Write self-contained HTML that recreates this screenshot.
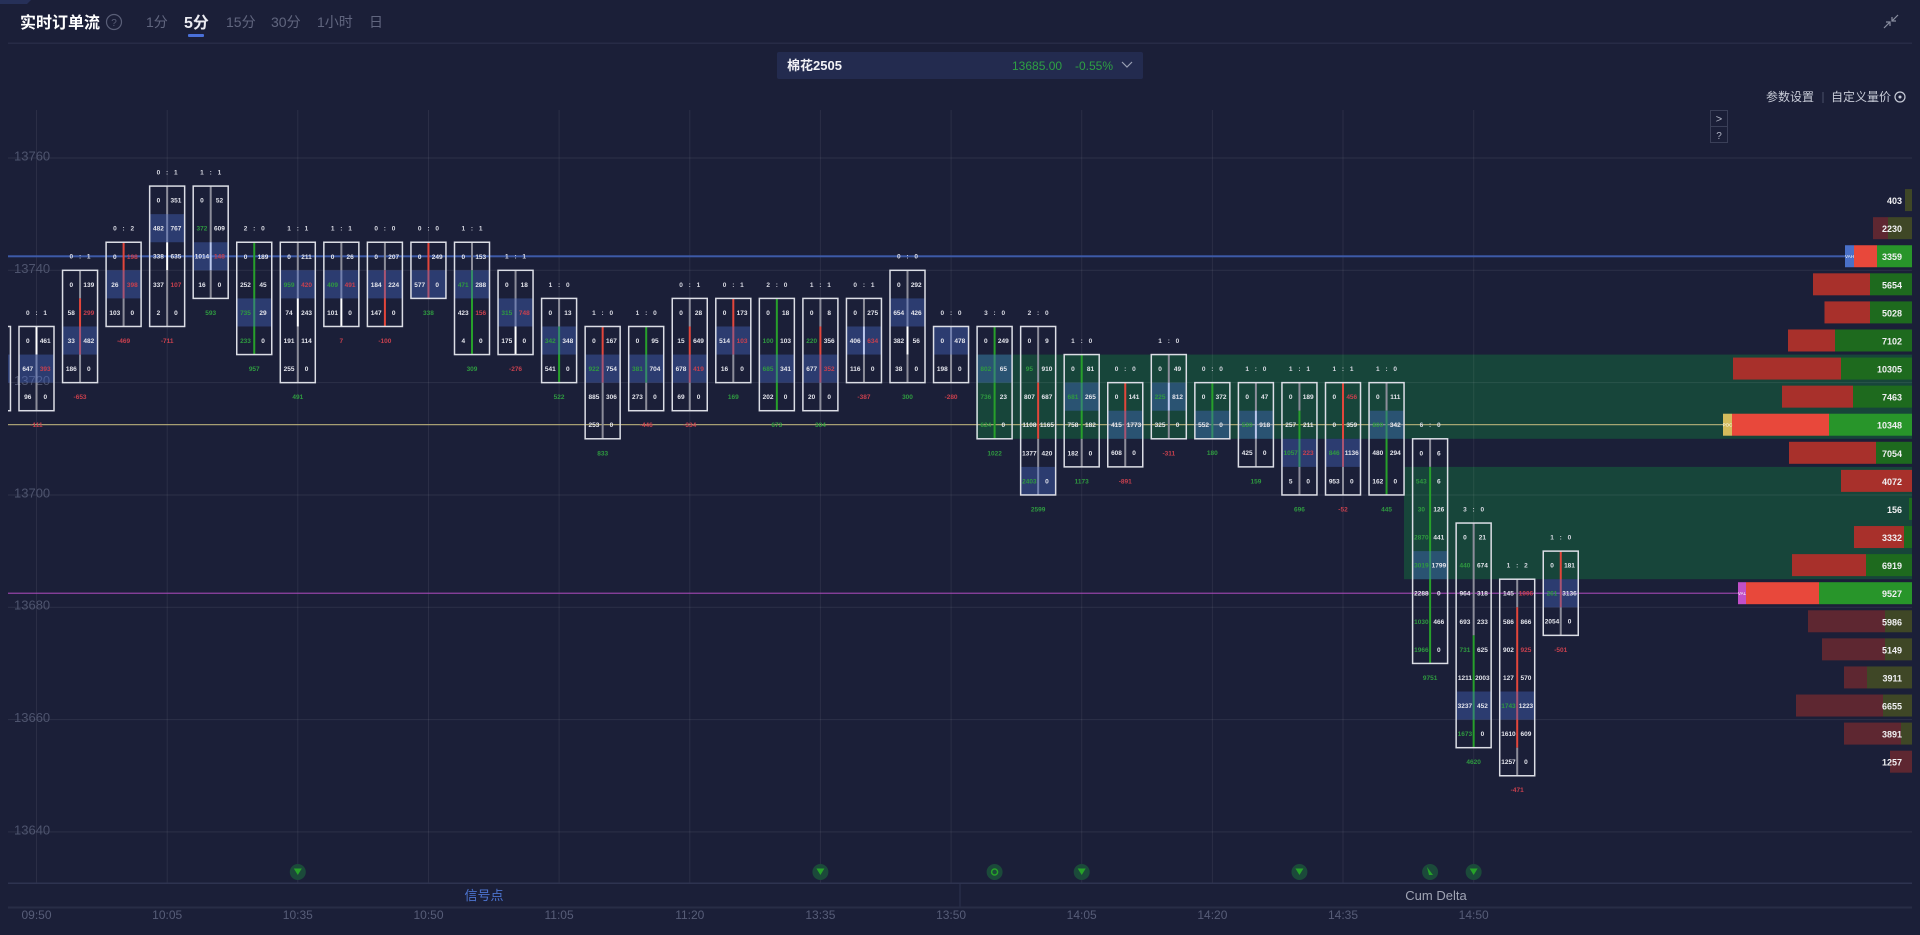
<!DOCTYPE html>
<html><head><meta charset="utf-8"><title>实时订单流</title>
<style>
html,body{margin:0;padding:0;background:#1b1f38;width:1920px;height:935px;overflow:hidden}
svg{display:block}
text{font-family:"Liberation Sans","Noto Sans CJK SC",sans-serif}
.k text{font-size:6.5px;font-weight:700;fill:#e4e5ec;text-anchor:middle}
.k .g{fill:#2f9a40}
.k .r{fill:#c8404e}
.k .h{letter-spacing:2px;fill:#d9dae3}
.bx{fill:none;stroke:#dcdee6;stroke-width:1.5}
.hl{fill:#4a6ccc;fill-opacity:.38}
.lg{fill:#8c8d9a}.lr{fill:#e3463b}.ln{fill:#27a02b}.lw{fill:#ffffff}
.pt{font-size:9px;font-weight:700;fill:#f0f0f2;text-anchor:end}
.tl{font-size:12px;fill:#575d78;text-anchor:middle}
.pl{font-size:13px;fill:#4e546e}
.tab{font-size:14px;fill:#61667f}
</style></head>
<body>
<svg width="1920" height="935" viewBox="0 0 1920 935" xmlns="http://www.w3.org/2000/svg">
<defs><clipPath id="cp"><rect x="8" y="100" width="1904" height="783"/></clipPath></defs>
<rect width="1920" height="935" fill="#1b1f38"/>
<polygon points="0,0 31,0 27,4 0,4" fill="#263058"/>

<!-- header -->
<text x="20" y="28" font-size="16" font-weight="700" fill="#ffffff">实时订单流</text>
<circle cx="114" cy="22" r="7.5" fill="none" stroke="#5a5f78" stroke-width="1.2"/>
<text x="114" y="26" font-size="10" fill="#5a5f78" text-anchor="middle">?</text>
<text class="tab" x="146" y="27">1分</text>
<text x="184" y="28" font-size="16" font-weight="700" fill="#ececf2">5分</text>
<rect x="188" y="34" width="16" height="3" rx="1" fill="#4a70d8"/>
<text class="tab" x="226" y="27">15分</text>
<text class="tab" x="271" y="27">30分</text>
<text class="tab" x="317" y="27">1小时</text>
<text class="tab" x="369" y="27">日</text>
<g stroke="#8a8ea0" stroke-width="1.2" fill="none">
<line x1="1898" y1="15" x2="1892" y2="21"/><polyline points="1892,17 1892,21 1896,21"/>
<line x1="1884" y1="28" x2="1890" y2="22"/><polyline points="1886,22 1890,22 1890,26"/>
</g>
<rect x="8" y="42.5" width="1904" height="1.5" fill="#272b46"/>

<!-- selector -->
<rect x="777" y="52" width="366" height="27" rx="2" fill="#232b4f"/>
<text x="787" y="70" font-size="13" font-weight="700" fill="#f2f2f6">棉花2505</text>
<text x="1012" y="70" font-size="12" fill="#2ea043">13685.00</text>
<text x="1075" y="70" font-size="12" fill="#2ea043">-0.55%</text>
<polyline points="1122,62 1127,67 1132,62" fill="none" stroke="#9aa0b4" stroke-width="1.2"/>

<text x="1766" y="101" font-size="12" fill="#c8ccd8">参数设置</text>
<rect x="1822.5" y="92" width="1" height="11" fill="#4a4f68"/>
<text x="1831" y="101" font-size="12" fill="#c8ccd8">自定义量价</text>
<circle cx="1900" cy="97" r="5" fill="none" stroke="#c8ccd8" stroke-width="1.2"/>
<circle cx="1900" cy="97" r="1.5" fill="#c8ccd8"/>
<rect x="1710.5" y="110.5" width="17" height="16" fill="none" stroke="#3a3f58"/>
<rect x="1710.5" y="126.5" width="17" height="16" fill="none" stroke="#3a3f58"/>
<text x="1719" y="122.5" font-size="11" fill="#b0b4c4" text-anchor="middle">&gt;</text>
<text x="1719" y="139" font-size="10" fill="#b0b4c4" text-anchor="middle">?</text>

<!-- green bands -->
<rect x="976" y="354.56" width="936" height="84.24" fill="#17453a"/>
<rect x="1404" y="466.88" width="508" height="112.32" fill="#17453a"/>

<!-- horizontal gridlines -->
<g fill="#ffffff" fill-opacity="0.08">
<rect x="8" y="157.5" width="1904" height="1"/>
<rect x="8" y="269.8" width="1904" height="1"/>
<rect x="8" y="382.1" width="1904" height="1"/>
<rect x="8" y="494.5" width="1904" height="1"/>
<rect x="8" y="606.8" width="1904" height="1"/>
<rect x="8" y="719.1" width="1904" height="1"/>
<rect x="8" y="831.4" width="1904" height="1"/>
</g>
<!-- vertical gridlines -->
<g fill="#ffffff" fill-opacity="0.07">
<rect x="36" y="110" width="1" height="773"/>
<rect x="166.7" y="110" width="1" height="773"/>
<rect x="297.3" y="110" width="1" height="773"/>
<rect x="428" y="110" width="1" height="773"/>
<rect x="558.6" y="110" width="1" height="773"/>
<rect x="689.3" y="110" width="1" height="773"/>
<rect x="819.9" y="110" width="1" height="773"/>
<rect x="950.6" y="110" width="1" height="773"/>
<rect x="1081.2" y="110" width="1" height="773"/>
<rect x="1211.9" y="110" width="1" height="773"/>
<rect x="1342.5" y="110" width="1" height="773"/>
<rect x="1473.2" y="110" width="1" height="773"/>
</g>
<!-- price labels -->
<text class="pl" x="14" y="160.5">13760</text>
<text class="pl" x="14" y="272.8">13740</text>
<text class="pl" x="14" y="385.1">13720</text>
<text class="pl" x="14" y="497.4">13700</text>
<text class="pl" x="14" y="609.7">13680</text>
<text class="pl" x="14" y="722">13660</text>
<text class="pl" x="14" y="834.3">13640</text>

<!-- VAH / POC / VAL lines -->
<rect x="8" y="255.3" width="1837" height="2" fill="#3d5aa8"/>
<rect x="8" y="424.2" width="1715" height="1" fill="#c8bd80"/>
<rect x="8" y="592.7" width="1730" height="1" fill="#b04cc0"/>

<!-- candles -->
<g class="k" clip-path="url(#cp)">
<g transform="translate(-24.55,298.4)">
<rect class="lg" x="16.5" y="28.08" width="2" height="84.24"/>
<rect class="hl" y="56.16" width="35" height="28.08"/>
<rect class="bx" y="28.08" width="35" height="84.24"/>
</g>
<g transform="translate(19,298.4)">
<rect class="lw" x="16.5" y="28.08" width="2" height="28.08"/>
<rect class="lg" x="16.5" y="56.16" width="2" height="56.16"/>
<rect class="hl" y="56.16" width="35" height="28.08"/>
<rect class="bx" y="28.08" width="35" height="84.24"/>
<text class="h" x="18.5" y="16.5">0 : 1</text>
<text x="8.75" y="44.6">0</text><text x="26.25" y="44.6">461</text>
<text x="8.75" y="72.7">647</text><text class="r" x="26.25" y="72.7">393</text>
<text x="8.75" y="100.7">96</text><text x="26.25" y="100.7">0</text>
<text class="r" x="17.5" y="128.8">-111</text>
</g>
<g transform="translate(62.55,242.24)">
<rect class="lg" x="16.5" y="28.08" width="2" height="28.08"/>
<rect class="lr" x="16.5" y="56.16" width="2" height="56.16"/>
<rect class="lg" x="16.5" y="112.32" width="2" height="28.08"/>
<rect class="hl" y="84.24" width="35" height="28.08"/>
<rect class="bx" y="28.08" width="35" height="112.32"/>
<text class="h" x="18.5" y="16.5">0 : 1</text>
<text x="8.75" y="44.6">0</text><text x="26.25" y="44.6">139</text>
<text x="8.75" y="72.7">58</text><text class="r" x="26.25" y="72.7">299</text>
<text x="8.75" y="100.7">33</text><text x="26.25" y="100.7">482</text>
<text x="8.75" y="128.8">186</text><text x="26.25" y="128.8">0</text>
<text class="r" x="17.5" y="156.9">-653</text>
</g>
<g transform="translate(106.1,214.16)">
<rect class="lr" x="16.5" y="28.08" width="2" height="56.16"/>
<rect class="lg" x="16.5" y="84.24" width="2" height="28.08"/>
<rect class="hl" y="56.16" width="35" height="28.08"/>
<rect class="bx" y="28.08" width="35" height="84.24"/>
<text class="h" x="18.5" y="16.5">0 : 2</text>
<text x="8.75" y="44.6">0</text><text class="r" x="26.25" y="44.6">198</text>
<text x="8.75" y="72.7">26</text><text class="r" x="26.25" y="72.7">398</text>
<text x="8.75" y="100.7">103</text><text x="26.25" y="100.7">0</text>
<text class="r" x="17.5" y="128.8">-469</text>
</g>
<g transform="translate(149.65,158)">
<rect class="lg" x="16.5" y="28.08" width="2" height="56.16"/>
<rect class="lw" x="16.5" y="84.24" width="2" height="28.08"/>
<rect class="lg" x="16.5" y="112.32" width="2" height="56.16"/>
<rect class="hl" y="56.16" width="35" height="28.08"/>
<rect class="bx" y="28.08" width="35" height="140.4"/>
<text class="h" x="18.5" y="16.5">0 : 1</text>
<text x="8.75" y="44.6">0</text><text x="26.25" y="44.6">351</text>
<text x="8.75" y="72.7">482</text><text x="26.25" y="72.7">767</text>
<text x="8.75" y="100.7">338</text><text x="26.25" y="100.7">635</text>
<text x="8.75" y="128.8">337</text><text class="r" x="26.25" y="128.8">107</text>
<text x="8.75" y="156.9">2</text><text x="26.25" y="156.9">0</text>
<text class="r" x="17.5" y="185">-711</text>
</g>
<g transform="translate(193.2,158)">
<rect class="lg" x="16.5" y="28.08" width="2" height="56.16"/>
<rect class="lw" x="16.5" y="84.24" width="2" height="28.08"/>
<rect class="lg" x="16.5" y="112.32" width="2" height="28.08"/>
<rect class="hl" y="84.24" width="35" height="28.08"/>
<rect class="bx" y="28.08" width="35" height="112.32"/>
<text class="h" x="18.5" y="16.5">1 : 1</text>
<text x="8.75" y="44.6">0</text><text x="26.25" y="44.6">52</text>
<text class="g" x="8.75" y="72.7">372</text><text x="26.25" y="72.7">609</text>
<text x="8.75" y="100.7">1014</text><text class="r" x="26.25" y="100.7">148</text>
<text x="8.75" y="128.8">16</text><text x="26.25" y="128.8">0</text>
<text class="g" x="17.5" y="156.9">593</text>
</g>
<g transform="translate(236.75,214.16)">
<rect class="ln" x="16.5" y="28.08" width="2" height="112.32"/>
<rect class="hl" y="84.24" width="35" height="28.08"/>
<rect class="bx" y="28.08" width="35" height="112.32"/>
<text class="h" x="18.5" y="16.5">2 : 0</text>
<text x="8.75" y="44.6">0</text><text x="26.25" y="44.6">189</text>
<text x="8.75" y="72.7">252</text><text x="26.25" y="72.7">45</text>
<text class="g" x="8.75" y="100.7">735</text><text x="26.25" y="100.7">29</text>
<text class="g" x="8.75" y="128.8">233</text><text x="26.25" y="128.8">0</text>
<text class="g" x="17.5" y="156.9">957</text>
</g>
<g transform="translate(280.3,214.16)">
<rect class="lg" x="16.5" y="28.08" width="2" height="56.16"/>
<rect class="lw" x="16.5" y="84.24" width="2" height="28.08"/>
<rect class="lg" x="16.5" y="112.32" width="2" height="56.16"/>
<rect class="hl" y="56.16" width="35" height="28.08"/>
<rect class="bx" y="28.08" width="35" height="140.4"/>
<text class="h" x="18.5" y="16.5">1 : 1</text>
<text x="8.75" y="44.6">0</text><text x="26.25" y="44.6">211</text>
<text class="g" x="8.75" y="72.7">959</text><text class="r" x="26.25" y="72.7">420</text>
<text x="8.75" y="100.7">74</text><text x="26.25" y="100.7">243</text>
<text x="8.75" y="128.8">191</text><text x="26.25" y="128.8">114</text>
<text x="8.75" y="156.9">255</text><text x="26.25" y="156.9">0</text>
<text class="g" x="17.5" y="185">491</text>
</g>
<g transform="translate(323.85,214.16)">
<rect class="lg" x="16.5" y="28.08" width="2" height="56.16"/>
<rect class="lw" x="16.5" y="84.24" width="2" height="28.08"/>
<rect class="hl" y="56.16" width="35" height="28.08"/>
<rect class="bx" y="28.08" width="35" height="84.24"/>
<text class="h" x="18.5" y="16.5">1 : 1</text>
<text x="8.75" y="44.6">0</text><text x="26.25" y="44.6">26</text>
<text class="g" x="8.75" y="72.7">409</text><text class="r" x="26.25" y="72.7">491</text>
<text x="8.75" y="100.7">101</text><text x="26.25" y="100.7">0</text>
<text class="r" x="17.5" y="128.8">7</text>
</g>
<g transform="translate(367.4,214.16)">
<rect class="lg" x="16.5" y="28.08" width="2" height="28.08"/>
<rect class="lr" x="16.5" y="56.16" width="2" height="56.16"/>
<rect class="hl" y="56.16" width="35" height="28.08"/>
<rect class="bx" y="28.08" width="35" height="84.24"/>
<text class="h" x="18.5" y="16.5">0 : 0</text>
<text x="8.75" y="44.6">0</text><text x="26.25" y="44.6">207</text>
<text x="8.75" y="72.7">184</text><text x="26.25" y="72.7">224</text>
<text x="8.75" y="100.7">147</text><text x="26.25" y="100.7">0</text>
<text class="r" x="17.5" y="128.8">-100</text>
</g>
<g transform="translate(410.95,214.16)">
<rect class="lr" x="16.5" y="28.08" width="2" height="56.16"/>
<rect class="hl" y="56.16" width="35" height="28.08"/>
<rect class="bx" y="28.08" width="35" height="56.16"/>
<text class="h" x="18.5" y="16.5">0 : 0</text>
<text x="8.75" y="44.6">0</text><text x="26.25" y="44.6">249</text>
<text x="8.75" y="72.7">577</text><text x="26.25" y="72.7">0</text>
<text class="g" x="17.5" y="100.7">338</text>
</g>
<g transform="translate(454.5,214.16)">
<rect class="lg" x="16.5" y="28.08" width="2" height="28.08"/>
<rect class="ln" x="16.5" y="56.16" width="2" height="84.24"/>
<rect class="hl" y="56.16" width="35" height="28.08"/>
<rect class="bx" y="28.08" width="35" height="112.32"/>
<text class="h" x="18.5" y="16.5">1 : 1</text>
<text x="8.75" y="44.6">0</text><text x="26.25" y="44.6">153</text>
<text class="g" x="8.75" y="72.7">471</text><text x="26.25" y="72.7">288</text>
<text x="8.75" y="100.7">423</text><text class="r" x="26.25" y="100.7">156</text>
<text x="8.75" y="128.8">4</text><text x="26.25" y="128.8">0</text>
<text class="g" x="17.5" y="156.9">309</text>
</g>
<g transform="translate(498.05,242.24)">
<rect class="lg" x="16.5" y="28.08" width="2" height="56.16"/>
<rect class="lw" x="16.5" y="84.24" width="2" height="28.08"/>
<rect class="hl" y="56.16" width="35" height="28.08"/>
<rect class="bx" y="28.08" width="35" height="84.24"/>
<text class="h" x="18.5" y="16.5">1 : 1</text>
<text x="8.75" y="44.6">0</text><text x="26.25" y="44.6">18</text>
<text class="g" x="8.75" y="72.7">315</text><text class="r" x="26.25" y="72.7">748</text>
<text x="8.75" y="100.7">175</text><text x="26.25" y="100.7">0</text>
<text class="r" x="17.5" y="128.8">-276</text>
</g>
<g transform="translate(541.6,270.32)">
<rect class="lg" x="16.5" y="28.08" width="2" height="28.08"/>
<rect class="ln" x="16.5" y="56.16" width="2" height="56.16"/>
<rect class="hl" y="56.16" width="35" height="28.08"/>
<rect class="bx" y="28.08" width="35" height="84.24"/>
<text class="h" x="18.5" y="16.5">1 : 0</text>
<text x="8.75" y="44.6">0</text><text x="26.25" y="44.6">13</text>
<text class="g" x="8.75" y="72.7">342</text><text x="26.25" y="72.7">348</text>
<text x="8.75" y="100.7">541</text><text x="26.25" y="100.7">0</text>
<text class="g" x="17.5" y="128.8">522</text>
</g>
<g transform="translate(585.15,298.4)">
<rect class="lr" x="16.5" y="28.08" width="2" height="56.16"/>
<rect class="lg" x="16.5" y="84.24" width="2" height="56.16"/>
<rect class="hl" y="56.16" width="35" height="28.08"/>
<rect class="bx" y="28.08" width="35" height="112.32"/>
<text class="h" x="18.5" y="16.5">1 : 0</text>
<text x="8.75" y="44.6">0</text><text x="26.25" y="44.6">167</text>
<text class="g" x="8.75" y="72.7">922</text><text x="26.25" y="72.7">754</text>
<text x="8.75" y="100.7">885</text><text x="26.25" y="100.7">306</text>
<text x="8.75" y="128.8">253</text><text x="26.25" y="128.8">0</text>
<text class="g" x="17.5" y="156.9">833</text>
</g>
<g transform="translate(628.7,298.4)">
<rect class="ln" x="16.5" y="28.08" width="2" height="56.16"/>
<rect class="lg" x="16.5" y="84.24" width="2" height="28.08"/>
<rect class="hl" y="56.16" width="35" height="28.08"/>
<rect class="bx" y="28.08" width="35" height="84.24"/>
<text class="h" x="18.5" y="16.5">1 : 0</text>
<text x="8.75" y="44.6">0</text><text x="26.25" y="44.6">95</text>
<text class="g" x="8.75" y="72.7">381</text><text x="26.25" y="72.7">704</text>
<text x="8.75" y="100.7">273</text><text x="26.25" y="100.7">0</text>
<text class="r" x="17.5" y="128.8">-446</text>
</g>
<g transform="translate(672.25,270.32)">
<rect class="lg" x="16.5" y="28.08" width="2" height="28.08"/>
<rect class="lr" x="16.5" y="56.16" width="2" height="56.16"/>
<rect class="lg" x="16.5" y="112.32" width="2" height="28.08"/>
<rect class="hl" y="84.24" width="35" height="28.08"/>
<rect class="bx" y="28.08" width="35" height="112.32"/>
<text class="h" x="18.5" y="16.5">0 : 1</text>
<text x="8.75" y="44.6">0</text><text x="26.25" y="44.6">28</text>
<text x="8.75" y="72.7">15</text><text x="26.25" y="72.7">649</text>
<text x="8.75" y="100.7">678</text><text class="r" x="26.25" y="100.7">419</text>
<text x="8.75" y="128.8">69</text><text x="26.25" y="128.8">0</text>
<text class="r" x="17.5" y="156.9">-334</text>
</g>
<g transform="translate(715.8,270.32)">
<rect class="lr" x="16.5" y="28.08" width="2" height="56.16"/>
<rect class="lg" x="16.5" y="84.24" width="2" height="28.08"/>
<rect class="hl" y="56.16" width="35" height="28.08"/>
<rect class="bx" y="28.08" width="35" height="84.24"/>
<text class="h" x="18.5" y="16.5">0 : 1</text>
<text x="8.75" y="44.6">0</text><text x="26.25" y="44.6">173</text>
<text x="8.75" y="72.7">514</text><text class="r" x="26.25" y="72.7">103</text>
<text x="8.75" y="100.7">16</text><text x="26.25" y="100.7">0</text>
<text class="g" x="17.5" y="128.8">169</text>
</g>
<g transform="translate(759.35,270.32)">
<rect class="ln" x="16.5" y="28.08" width="2" height="112.32"/>
<rect class="hl" y="84.24" width="35" height="28.08"/>
<rect class="bx" y="28.08" width="35" height="112.32"/>
<text class="h" x="18.5" y="16.5">2 : 0</text>
<text x="8.75" y="44.6">0</text><text x="26.25" y="44.6">18</text>
<text class="g" x="8.75" y="72.7">100</text><text x="26.25" y="72.7">103</text>
<text class="g" x="8.75" y="100.7">685</text><text x="26.25" y="100.7">341</text>
<text x="8.75" y="128.8">202</text><text x="26.25" y="128.8">0</text>
<text class="g" x="17.5" y="156.9">673</text>
</g>
<g transform="translate(802.9,270.32)">
<rect class="lg" x="16.5" y="28.08" width="2" height="28.08"/>
<rect class="lr" x="16.5" y="56.16" width="2" height="56.16"/>
<rect class="lg" x="16.5" y="112.32" width="2" height="28.08"/>
<rect class="hl" y="84.24" width="35" height="28.08"/>
<rect class="bx" y="28.08" width="35" height="112.32"/>
<text class="h" x="18.5" y="16.5">1 : 1</text>
<text x="8.75" y="44.6">0</text><text x="26.25" y="44.6">8</text>
<text class="g" x="8.75" y="72.7">220</text><text x="26.25" y="72.7">356</text>
<text x="8.75" y="100.7">677</text><text class="r" x="26.25" y="100.7">352</text>
<text x="8.75" y="128.8">20</text><text x="26.25" y="128.8">0</text>
<text class="g" x="17.5" y="156.9">304</text>
</g>
<g transform="translate(846.45,270.32)">
<rect class="lg" x="16.5" y="28.08" width="2" height="28.08"/>
<rect class="lw" x="16.5" y="56.16" width="2" height="28.08"/>
<rect class="lg" x="16.5" y="84.24" width="2" height="28.08"/>
<rect class="hl" y="56.16" width="35" height="28.08"/>
<rect class="bx" y="28.08" width="35" height="84.24"/>
<text class="h" x="18.5" y="16.5">0 : 1</text>
<text x="8.75" y="44.6">0</text><text x="26.25" y="44.6">275</text>
<text x="8.75" y="72.7">406</text><text class="r" x="26.25" y="72.7">634</text>
<text x="8.75" y="100.7">116</text><text x="26.25" y="100.7">0</text>
<text class="r" x="17.5" y="128.8">-387</text>
</g>
<g transform="translate(890,242.24)">
<rect class="lg" x="16.5" y="28.08" width="2" height="56.16"/>
<rect class="lw" x="16.5" y="84.24" width="2" height="28.08"/>
<rect class="lg" x="16.5" y="112.32" width="2" height="28.08"/>
<rect class="hl" y="56.16" width="35" height="28.08"/>
<rect class="bx" y="28.08" width="35" height="112.32"/>
<text class="h" x="18.5" y="16.5">0 : 0</text>
<text x="8.75" y="44.6">0</text><text x="26.25" y="44.6">292</text>
<text x="8.75" y="72.7">654</text><text x="26.25" y="72.7">426</text>
<text x="8.75" y="100.7">382</text><text x="26.25" y="100.7">56</text>
<text x="8.75" y="128.8">38</text><text x="26.25" y="128.8">0</text>
<text class="g" x="17.5" y="156.9">300</text>
</g>
<g transform="translate(933.55,298.4)">
<rect class="lg" x="16.5" y="28.08" width="2" height="56.16"/>
<rect class="hl" y="28.08" width="35" height="28.08"/>
<rect class="bx" y="28.08" width="35" height="56.16"/>
<text class="h" x="18.5" y="16.5">0 : 0</text>
<text x="8.75" y="44.6">0</text><text x="26.25" y="44.6">478</text>
<text x="8.75" y="72.7">198</text><text x="26.25" y="72.7">0</text>
<text class="r" x="17.5" y="100.7">-280</text>
</g>
<g transform="translate(977.1,298.4)">
<rect class="ln" x="16.5" y="28.08" width="2" height="112.32"/>
<rect class="hl" y="56.16" width="35" height="28.08"/>
<rect class="bx" y="28.08" width="35" height="112.32"/>
<text class="h" x="18.5" y="16.5">3 : 0</text>
<text x="8.75" y="44.6">0</text><text x="26.25" y="44.6">249</text>
<text class="g" x="8.75" y="72.7">802</text><text x="26.25" y="72.7">65</text>
<text class="g" x="8.75" y="100.7">736</text><text x="26.25" y="100.7">23</text>
<text class="g" x="8.75" y="128.8">624</text><text x="26.25" y="128.8">0</text>
<text class="g" x="17.5" y="156.9">1022</text>
</g>
<g transform="translate(1020.65,298.4)">
<rect class="lg" x="16.5" y="28.08" width="2" height="56.16"/>
<rect class="lr" x="16.5" y="84.24" width="2" height="56.16"/>
<rect class="lg" x="16.5" y="140.4" width="2" height="56.16"/>
<rect class="hl" y="168.48" width="35" height="28.08"/>
<rect class="bx" y="28.08" width="35" height="168.48"/>
<text class="h" x="18.5" y="16.5">2 : 0</text>
<text x="8.75" y="44.6">0</text><text x="26.25" y="44.6">9</text>
<text class="g" x="8.75" y="72.7">95</text><text x="26.25" y="72.7">910</text>
<text x="8.75" y="100.7">807</text><text x="26.25" y="100.7">687</text>
<text x="8.75" y="128.8">1108</text><text x="26.25" y="128.8">1165</text>
<text x="8.75" y="156.9">1377</text><text x="26.25" y="156.9">420</text>
<text class="g" x="8.75" y="185">2403</text><text x="26.25" y="185">0</text>
<text class="g" x="17.5" y="213.1">2599</text>
</g>
<g transform="translate(1064.2,326.48)">
<rect class="ln" x="16.5" y="28.08" width="2" height="84.24"/>
<rect class="lg" x="16.5" y="112.32" width="2" height="28.08"/>
<rect class="hl" y="56.16" width="35" height="28.08"/>
<rect class="bx" y="28.08" width="35" height="112.32"/>
<text class="h" x="18.5" y="16.5">1 : 0</text>
<text x="8.75" y="44.6">0</text><text x="26.25" y="44.6">81</text>
<text class="g" x="8.75" y="72.7">681</text><text x="26.25" y="72.7">265</text>
<text x="8.75" y="100.7">758</text><text x="26.25" y="100.7">182</text>
<text x="8.75" y="128.8">182</text><text x="26.25" y="128.8">0</text>
<text class="g" x="17.5" y="156.9">1173</text>
</g>
<g transform="translate(1107.75,354.56)">
<rect class="lr" x="16.5" y="28.08" width="2" height="56.16"/>
<rect class="lg" x="16.5" y="84.24" width="2" height="28.08"/>
<rect class="hl" y="56.16" width="35" height="28.08"/>
<rect class="bx" y="28.08" width="35" height="84.24"/>
<text class="h" x="18.5" y="16.5">0 : 0</text>
<text x="8.75" y="44.6">0</text><text x="26.25" y="44.6">141</text>
<text x="8.75" y="72.7">415</text><text x="26.25" y="72.7">1773</text>
<text x="8.75" y="100.7">608</text><text x="26.25" y="100.7">0</text>
<text class="r" x="17.5" y="128.8">-891</text>
</g>
<g transform="translate(1151.3,326.48)">
<rect class="lg" x="16.5" y="28.08" width="2" height="28.08"/>
<rect class="lw" x="16.5" y="56.16" width="2" height="28.08"/>
<rect class="lg" x="16.5" y="84.24" width="2" height="28.08"/>
<rect class="hl" y="56.16" width="35" height="28.08"/>
<rect class="bx" y="28.08" width="35" height="84.24"/>
<text class="h" x="18.5" y="16.5">1 : 0</text>
<text x="8.75" y="44.6">0</text><text x="26.25" y="44.6">49</text>
<text class="g" x="8.75" y="72.7">225</text><text x="26.25" y="72.7">812</text>
<text x="8.75" y="100.7">325</text><text x="26.25" y="100.7">0</text>
<text class="r" x="17.5" y="128.8">-311</text>
</g>
<g transform="translate(1194.85,354.56)">
<rect class="ln" x="16.5" y="28.08" width="2" height="56.16"/>
<rect class="hl" y="56.16" width="35" height="28.08"/>
<rect class="bx" y="28.08" width="35" height="56.16"/>
<text class="h" x="18.5" y="16.5">0 : 0</text>
<text x="8.75" y="44.6">0</text><text x="26.25" y="44.6">372</text>
<text x="8.75" y="72.7">552</text><text x="26.25" y="72.7">0</text>
<text class="g" x="17.5" y="100.7">180</text>
</g>
<g transform="translate(1238.4,354.56)">
<rect class="lg" x="16.5" y="28.08" width="2" height="28.08"/>
<rect class="lw" x="16.5" y="56.16" width="2" height="28.08"/>
<rect class="lg" x="16.5" y="84.24" width="2" height="28.08"/>
<rect class="hl" y="56.16" width="35" height="28.08"/>
<rect class="bx" y="28.08" width="35" height="84.24"/>
<text class="h" x="18.5" y="16.5">1 : 0</text>
<text x="8.75" y="44.6">0</text><text x="26.25" y="44.6">47</text>
<text class="g" x="8.75" y="72.7">530</text><text x="26.25" y="72.7">918</text>
<text x="8.75" y="100.7">425</text><text x="26.25" y="100.7">0</text>
<text class="g" x="17.5" y="128.8">159</text>
</g>
<g transform="translate(1281.95,354.56)">
<rect class="lg" x="16.5" y="28.08" width="2" height="28.08"/>
<rect class="ln" x="16.5" y="56.16" width="2" height="56.16"/>
<rect class="lg" x="16.5" y="112.32" width="2" height="28.08"/>
<rect class="hl" y="84.24" width="35" height="28.08"/>
<rect class="bx" y="28.08" width="35" height="112.32"/>
<text class="h" x="18.5" y="16.5">1 : 1</text>
<text x="8.75" y="44.6">0</text><text x="26.25" y="44.6">189</text>
<text x="8.75" y="72.7">257</text><text x="26.25" y="72.7">211</text>
<text class="g" x="8.75" y="100.7">1057</text><text class="r" x="26.25" y="100.7">223</text>
<text x="8.75" y="128.8">5</text><text x="26.25" y="128.8">0</text>
<text class="g" x="17.5" y="156.9">696</text>
</g>
<g transform="translate(1325.5,354.56)">
<rect class="lr" x="16.5" y="28.08" width="2" height="84.24"/>
<rect class="lg" x="16.5" y="112.32" width="2" height="28.08"/>
<rect class="hl" y="84.24" width="35" height="28.08"/>
<rect class="bx" y="28.08" width="35" height="112.32"/>
<text class="h" x="18.5" y="16.5">1 : 1</text>
<text x="8.75" y="44.6">0</text><text class="r" x="26.25" y="44.6">456</text>
<text x="8.75" y="72.7">0</text><text x="26.25" y="72.7">359</text>
<text class="g" x="8.75" y="100.7">846</text><text x="26.25" y="100.7">1136</text>
<text x="8.75" y="128.8">953</text><text x="26.25" y="128.8">0</text>
<text class="r" x="17.5" y="156.9">-52</text>
</g>
<g transform="translate(1369.05,354.56)">
<rect class="lg" x="16.5" y="28.08" width="2" height="28.08"/>
<rect class="ln" x="16.5" y="56.16" width="2" height="84.24"/>
<rect class="hl" y="56.16" width="35" height="28.08"/>
<rect class="bx" y="28.08" width="35" height="112.32"/>
<text class="h" x="18.5" y="16.5">1 : 0</text>
<text x="8.75" y="44.6">0</text><text x="26.25" y="44.6">111</text>
<text class="g" x="8.75" y="72.7">800</text><text x="26.25" y="72.7">342</text>
<text x="8.75" y="100.7">480</text><text x="26.25" y="100.7">294</text>
<text x="8.75" y="128.8">162</text><text x="26.25" y="128.8">0</text>
<text class="g" x="17.5" y="156.9">445</text>
</g>
<g transform="translate(1412.6,410.72)">
<rect class="lg" x="16.5" y="28.08" width="2" height="28.08"/>
<rect class="ln" x="16.5" y="56.16" width="2" height="196.56"/>
<rect class="hl" y="140.4" width="35" height="28.08"/>
<rect class="bx" y="28.08" width="35" height="224.64"/>
<text class="h" x="18.5" y="16.5">6 : 0</text>
<text x="8.75" y="44.6">0</text><text x="26.25" y="44.6">6</text>
<text class="g" x="8.75" y="72.7">543</text><text x="26.25" y="72.7">6</text>
<text class="g" x="8.75" y="100.7">30</text><text x="26.25" y="100.7">126</text>
<text class="g" x="8.75" y="128.8">2870</text><text x="26.25" y="128.8">441</text>
<text class="g" x="8.75" y="156.9">3019</text><text x="26.25" y="156.9">1799</text>
<text x="8.75" y="185">2288</text><text x="26.25" y="185">0</text>
<text class="g" x="8.75" y="213.1">1030</text><text x="26.25" y="213.1">466</text>
<text class="g" x="8.75" y="241.1">1966</text><text x="26.25" y="241.1">0</text>
<text class="g" x="17.5" y="269.2">9751</text>
</g>
<g transform="translate(1456.15,494.96)">
<rect class="lg" x="16.5" y="28.08" width="2" height="112.32"/>
<rect class="ln" x="16.5" y="140.4" width="2" height="112.32"/>
<rect class="hl" y="196.56" width="35" height="28.08"/>
<rect class="bx" y="28.08" width="35" height="224.64"/>
<text class="h" x="18.5" y="16.5">3 : 0</text>
<text x="8.75" y="44.6">0</text><text x="26.25" y="44.6">21</text>
<text class="g" x="8.75" y="72.7">440</text><text x="26.25" y="72.7">674</text>
<text x="8.75" y="100.7">964</text><text x="26.25" y="100.7">318</text>
<text x="8.75" y="128.8">693</text><text x="26.25" y="128.8">233</text>
<text class="g" x="8.75" y="156.9">731</text><text x="26.25" y="156.9">625</text>
<text x="8.75" y="185">1211</text><text x="26.25" y="185">2003</text>
<text x="8.75" y="213.1">3237</text><text x="26.25" y="213.1">452</text>
<text class="g" x="8.75" y="241.1">1673</text><text x="26.25" y="241.1">0</text>
<text class="g" x="17.5" y="269.2">4620</text>
</g>
<g transform="translate(1499.7,551.12)">
<rect class="lg" x="16.5" y="28.08" width="2" height="28.08"/>
<rect class="lr" x="16.5" y="56.16" width="2" height="140.4"/>
<rect class="lg" x="16.5" y="196.56" width="2" height="28.08"/>
<rect class="hl" y="140.4" width="35" height="28.08"/>
<rect class="bx" y="28.08" width="35" height="196.56"/>
<text class="h" x="18.5" y="16.5">1 : 2</text>
<text x="8.75" y="44.6">145</text><text class="r" x="26.25" y="44.6">1006</text>
<text x="8.75" y="72.7">586</text><text x="26.25" y="72.7">866</text>
<text x="8.75" y="100.7">902</text><text class="r" x="26.25" y="100.7">925</text>
<text x="8.75" y="128.8">127</text><text x="26.25" y="128.8">570</text>
<text class="g" x="8.75" y="156.9">1743</text><text x="26.25" y="156.9">1223</text>
<text x="8.75" y="185">1610</text><text x="26.25" y="185">609</text>
<text x="8.75" y="213.1">1257</text><text x="26.25" y="213.1">0</text>
<text class="r" x="17.5" y="241.1">-471</text>
</g>
<g transform="translate(1543.25,523.04)">
<rect class="lr" x="16.5" y="28.08" width="2" height="56.16"/>
<rect class="lg" x="16.5" y="84.24" width="2" height="28.08"/>
<rect class="hl" y="56.16" width="35" height="28.08"/>
<rect class="bx" y="28.08" width="35" height="84.24"/>
<text class="h" x="18.5" y="16.5">1 : 0</text>
<text x="8.75" y="44.6">0</text><text x="26.25" y="44.6">181</text>
<text class="g" x="8.75" y="72.7">261</text><text x="26.25" y="72.7">3136</text>
<text x="8.75" y="100.7">2054</text><text x="26.25" y="100.7">0</text>
<text class="r" x="17.5" y="128.8">-501</text>
</g>
</g>

<!-- volume profile -->
<g>
<rect x="1905" y="189.08" width="7" height="22" fill="#3f4726"/>
<rect x="1873" y="217.16" width="15" height="22" fill="#5e2731"/><rect x="1888" y="217.16" width="24" height="22" fill="#3f4726"/>
<rect x="1845" y="245.24" width="9" height="22" fill="#4a70c8"/><rect x="1854" y="245.24" width="23" height="22" fill="#e8483b"/><rect x="1877" y="245.24" width="35" height="22" fill="#28952a"/>
<rect x="1813" y="273.32" width="57" height="22" fill="#a8302b"/><rect x="1870" y="273.32" width="42" height="22" fill="#1e6a1e"/>
<rect x="1824.5" y="301.4" width="45.5" height="22" fill="#a8302b"/><rect x="1870" y="301.4" width="42" height="22" fill="#1e6a1e"/>
<rect x="1788" y="329.48" width="47" height="22" fill="#a8302b"/><rect x="1835" y="329.48" width="77" height="22" fill="#1e6a1e"/>
<rect x="1733" y="357.56" width="108" height="22" fill="#a8302b"/><rect x="1841" y="357.56" width="71" height="22" fill="#1e6a1e"/>
<rect x="1782" y="385.64" width="71" height="22" fill="#a8302b"/><rect x="1853" y="385.64" width="59" height="22" fill="#1e6a1e"/>
<rect x="1723" y="413.72" width="9" height="22" fill="#d4bc5c"/><rect x="1732" y="413.72" width="97" height="22" fill="#e8483b"/><rect x="1829" y="413.72" width="83" height="22" fill="#28952a"/>
<rect x="1789" y="441.8" width="87" height="22" fill="#a8302b"/><rect x="1876" y="441.8" width="36" height="22" fill="#1e6a1e"/>
<rect x="1841" y="469.88" width="71" height="22" fill="#a8302b"/>
<rect x="1909" y="497.96" width="3" height="22" fill="#1e6a1e"/>
<rect x="1854" y="526.04" width="50" height="22" fill="#a8302b"/><rect x="1904" y="526.04" width="8" height="22" fill="#1e6a1e"/>
<rect x="1792" y="554.12" width="74" height="22" fill="#a8302b"/><rect x="1866" y="554.12" width="46" height="22" fill="#1e6a1e"/>
<rect x="1738" y="582.2" width="8" height="22" fill="#c24fc8"/><rect x="1746" y="582.2" width="73" height="22" fill="#e8483b"/><rect x="1819" y="582.2" width="93" height="22" fill="#28952a"/>
<rect x="1808" y="610.28" width="77" height="22" fill="#5e2731"/><rect x="1885" y="610.28" width="27" height="22" fill="#3f4726"/>
<rect x="1822" y="638.36" width="63" height="22" fill="#5e2731"/><rect x="1885" y="638.36" width="27" height="22" fill="#3f4726"/>
<rect x="1844" y="666.44" width="23" height="22" fill="#5e2731"/><rect x="1867" y="666.44" width="45" height="22" fill="#3f4726"/>
<rect x="1796" y="694.52" width="87" height="22" fill="#5e2731"/><rect x="1883" y="694.52" width="29" height="22" fill="#3f4726"/>
<rect x="1844" y="722.6" width="57" height="22" fill="#5e2731"/><rect x="1901" y="722.6" width="11" height="22" fill="#3f4726"/>
<rect x="1890" y="750.68" width="22" height="22" fill="#5e2731"/>
<text x="1849.5" y="258.2" font-size="4.5" fill="#fff" text-anchor="middle">VAH</text>
<text x="1727.5" y="426.7" font-size="4.5" fill="#fff" text-anchor="middle">POC</text>
<text x="1742" y="595.2" font-size="4.5" fill="#fff" text-anchor="middle">VAL</text>
<text class="pt" x="1902" y="204.1">403</text>
<text class="pt" x="1902" y="232.2">2230</text>
<text class="pt" x="1902" y="260.2">3359</text>
<text class="pt" x="1902" y="288.3">5654</text>
<text class="pt" x="1902" y="316.4">5028</text>
<text class="pt" x="1902" y="344.5">7102</text>
<text class="pt" x="1902" y="372.6">10305</text>
<text class="pt" x="1902" y="400.6">7463</text>
<text class="pt" x="1902" y="428.7">10348</text>
<text class="pt" x="1902" y="456.8">7054</text>
<text class="pt" x="1902" y="484.9">4072</text>
<text class="pt" x="1902" y="513">156</text>
<text class="pt" x="1902" y="541">3332</text>
<text class="pt" x="1902" y="569.1">6919</text>
<text class="pt" x="1902" y="597.2">9527</text>
<text class="pt" x="1902" y="625.3">5986</text>
<text class="pt" x="1902" y="653.4">5149</text>
<text class="pt" x="1902" y="681.4">3911</text>
<text class="pt" x="1902" y="709.5">6655</text>
<text class="pt" x="1902" y="737.6">3891</text>
<text class="pt" x="1902" y="765.7">1257</text>
</g>

<!-- signal markers -->
<g>
<circle cx="297.8" cy="872" r="8" fill="#1b4a3a"/><polygon points="293.8,868.5 301.8,868.5 297.8,875" fill="#27a229"/>
<circle cx="820.4" cy="872" r="8" fill="#1b4a3a"/><polygon points="816.4,868.5 824.4,868.5 820.4,875" fill="#27a229"/>
<circle cx="994.6" cy="872" r="8" fill="#1b4a3a"/><circle cx="994.6" cy="872" r="3" fill="none" stroke="#27a229" stroke-width="1.5"/>
<circle cx="1081.7" cy="872" r="8" fill="#1b4a3a"/><polygon points="1077.7,868.5 1085.7,868.5 1081.7,875" fill="#27a229"/>
<circle cx="1299.45" cy="872" r="8" fill="#1b4a3a"/><polygon points="1295.45,868.5 1303.45,868.5 1299.45,875" fill="#27a229"/>
<circle cx="1430.1" cy="872" r="8" fill="#1b4a3a"/><polygon points="1427,867 1433,875 1429,875" fill="#27a229"/>
<circle cx="1473.65" cy="872" r="8" fill="#1b4a3a"/><polygon points="1469.65,868.5 1477.65,868.5 1473.65,875" fill="#27a229"/>
</g>

<!-- bottom tabs -->
<rect x="8" y="882.5" width="1904" height="1.5" fill="#2e3350"/>
<rect x="959.5" y="884" width="1" height="23" fill="#2e3350"/>
<text x="484" y="900" font-size="13" fill="#4d74d0" text-anchor="middle">信号点</text>
<text x="1436" y="900" font-size="13" fill="#a0a4b4" text-anchor="middle">Cum Delta</text>
<rect x="8" y="906.5" width="1904" height="2" fill="#282d46"/>

<!-- time labels -->
<text class="tl" x="36.5" y="919">09:50</text>
<text class="tl" x="167.2" y="919">10:05</text>
<text class="tl" x="297.8" y="919">10:35</text>
<text class="tl" x="428.5" y="919">10:50</text>
<text class="tl" x="559.1" y="919">11:05</text>
<text class="tl" x="689.8" y="919">11:20</text>
<text class="tl" x="820.4" y="919">13:35</text>
<text class="tl" x="951.1" y="919">13:50</text>
<text class="tl" x="1081.7" y="919">14:05</text>
<text class="tl" x="1212.4" y="919">14:20</text>
<text class="tl" x="1343" y="919">14:35</text>
<text class="tl" x="1473.7" y="919">14:50</text>
</svg>
</body></html>
